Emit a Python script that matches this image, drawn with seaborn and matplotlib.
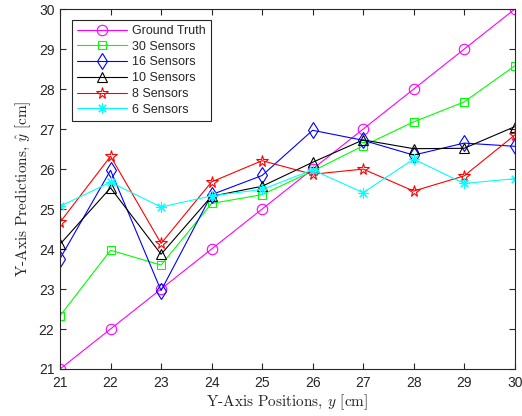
import matplotlib
matplotlib.use("Agg")
import matplotlib.pyplot as plt
import seaborn as sns
import numpy as np

positions = [21, 22, 23, 24, 25, 26, 27, 28, 29, 30]
ground_truth = [21, 22, 23, 24, 25, 26, 27, 28, 29, 30]
sensors_30 = [22.33, 23.97, 23.60, 25.14, 25.36, 25.95, 26.58, 27.18, 27.68, 28.58]
sensors_16 = [23.76, 25.97, 22.96, 25.36, 25.84, 26.97, 26.72, 26.35, 26.65, 26.57]
sensors_10 = [24.12, 25.53, 23.87, 25.32, 25.57, 26.17, 26.73, 26.51, 26.52, 27.06]
sensors_8 = [24.67, 26.32, 24.14, 25.68, 26.21, 25.87, 26.00, 25.45, 25.83, 26.85]
sensors_6 = [25.07, 25.67, 25.05, 25.33, 25.49, 25.98, 25.41, 26.25, 25.64, 25.76]

labels = ["Ground Truth", "30 Sensors", "16 Sensors", "10 Sensors", "8 Sensors", "6 Sensors"]
series = [ground_truth, sensors_30, sensors_16, sensors_10, sensors_8, sensors_6]
colors = ["#ff00ff", "#00ff00", "#0000ff", "#000000", "#ff0000", "#00ffff"]
markers = ["o", "s", "d", "^", "*", (8, 2, 0)]
msizes = [7.5, 5.5, 8.5, 7.5, 8.5, 7.5]

sns.set_style("ticks")
plt.rcParams["font.family"] = ["Liberation Sans", "DejaVu Sans"]
plt.rcParams["mathtext.fontset"] = "cm"

fig = plt.figure(figsize=(5.22, 4.16), dpi=100)
ax = fig.add_axes([0.115, 0.113, 0.871, 0.865])

for lab, vals, c, m, ms in zip(labels, series, colors, markers, msizes):
    sns.lineplot(x=positions, y=vals, ax=ax, color=c, marker=m, markersize=ms,
                 markerfacecolor="none", markeredgecolor=c, markeredgewidth=0.8,
                 linewidth=0.8, label=lab)

ax.set_xlim(21, 30)
ax.set_ylim(21, 30)
ax.set_xticks(range(21, 31))
ax.set_yticks(range(21, 31))
axc = "#262626"
for s in ax.spines.values():
    s.set_visible(True)
    s.set_color(axc)
    s.set_linewidth(0.8)
ax.tick_params(direction="in", top=True, right=True, length=4, width=0.8,
               colors=axc, labelsize=10, pad=5)
ax.tick_params(axis="y", pad=4)
for t in ax.get_xticklabels() + ax.get_yticklabels():
    t.set_color("#262626")

ax.set_xlabel("Y-Axis Positions, $y$ [cm]", fontfamily="cmr10", fontsize=11, labelpad=2, color="#262626")
ax.set_ylabel("Y-Axis Predictions, $\\hat{y}$ [cm]", fontfamily="cmr10", fontsize=11, labelpad=4, color="#262626")

leg = ax.legend(loc="upper left", bbox_to_anchor=(0.026, 0.97), fontsize=9,
                frameon=True, fancybox=False, framealpha=1, edgecolor="#262626",
                handlelength=4.0, handletextpad=0.4, labelspacing=0.3,
                borderpad=0.4, borderaxespad=0)
leg.get_frame().set_linewidth(0.8)

fig.savefig("out.png", dpi=100)
